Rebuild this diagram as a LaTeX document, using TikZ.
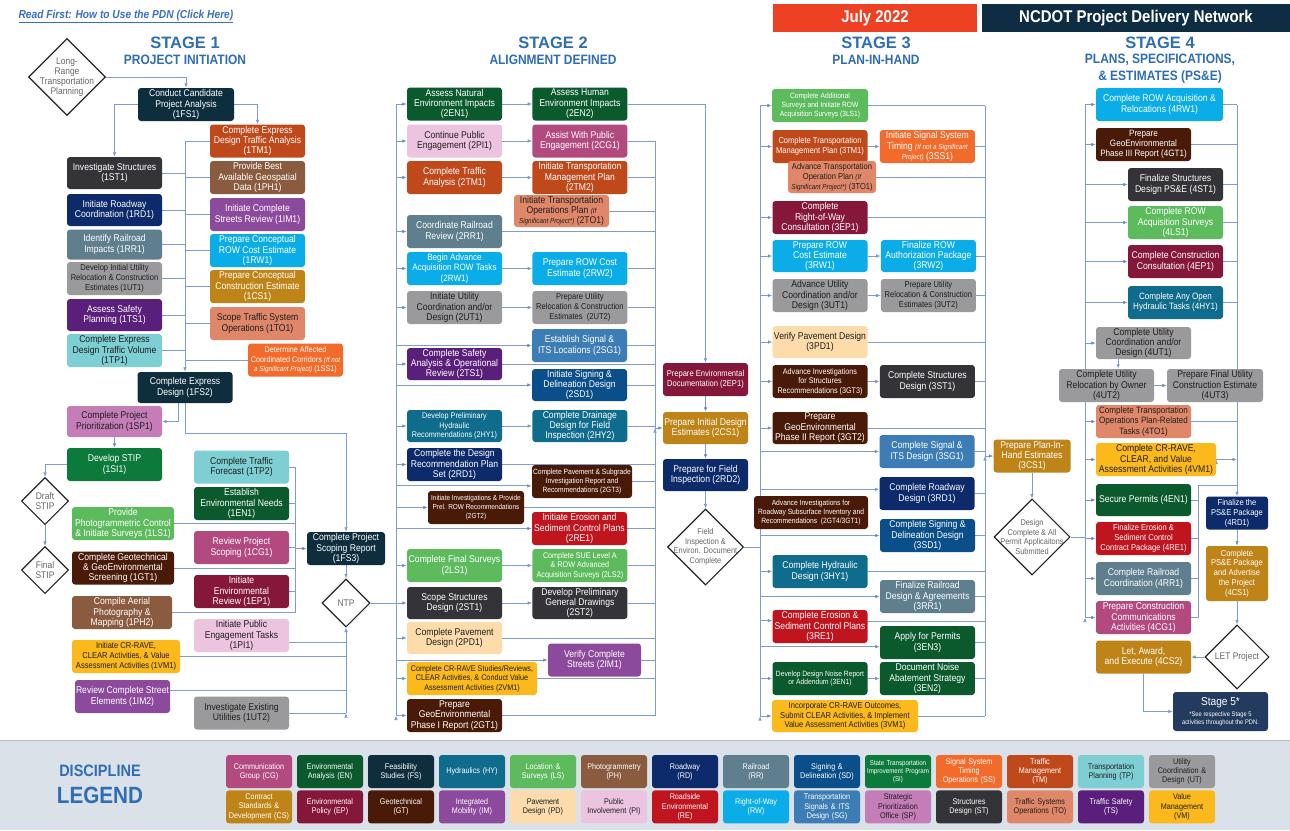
\documentclass[tikz,border=0pt]{standalone}
\usepackage{fontspec}
\setmainfont{Liberation Sans}[FakeStretch=0.88]
\newfontfamily\headfont{Liberation Sans}
\usetikzlibrary{arrows.meta, positioning, shapes.geometric}

% discipline colours
\definecolor{cCG}{HTML}{B24A80}
\definecolor{cEN}{HTML}{0B5A2E}
\definecolor{cFS}{HTML}{0E2E3E}
\definecolor{cHY}{HTML}{0F6C8D}
\definecolor{cLS}{HTML}{5DBB5E}
\definecolor{cPH}{HTML}{8B5B3F}
\definecolor{cRD}{HTML}{0D2A6B}
\definecolor{cRR}{HTML}{5F7F8F}
\definecolor{cSD}{HTML}{0A4F8A}
\definecolor{cSI}{HTML}{0B7A3B}
\definecolor{cSS}{HTML}{F26B2B}
\definecolor{cTM}{HTML}{C0491B}
\definecolor{cTP}{HTML}{7DCFD4}
\definecolor{cUT}{HTML}{9A9A9C}
\definecolor{cCS}{HTML}{BF8418}
\definecolor{cEP}{HTML}{85173B}
\definecolor{cGT}{HTML}{4A1A08}
\definecolor{cIM}{HTML}{8C4A9C}
\definecolor{cPD}{HTML}{FDDBAA}
\definecolor{cPI}{HTML}{EDC4DF}
\definecolor{cRE}{HTML}{C0141E}
\definecolor{cRW}{HTML}{0BADE8}
\definecolor{cSG}{HTML}{3D7DB5}
\definecolor{cSP}{HTML}{C57DB8}
\definecolor{cST}{HTML}{333338}
\definecolor{cTO}{HTML}{E0876A}
\definecolor{cTS}{HTML}{5A1F7A}
\definecolor{cVM}{HTML}{FBB91B}
\definecolor{cS5}{HTML}{233B5F}
% other colours
\definecolor{julyred}{HTML}{EE4123}
\definecolor{titlebg}{HTML}{0E2D42}
\definecolor{headblue}{HTML}{2F6DB5}
\definecolor{linkblue}{HTML}{3B6EC2}
\definecolor{lineblue}{HTML}{7E9CCE}
\definecolor{legendbg}{HTML}{DAE1E9}
\definecolor{darktext}{HTML}{1E1E1E}

\newcommand{\smallit}[1]{{\fontsize{7.2}{8}\selectfont\itshape #1}}

\pgfdeclarelayer{bg}
\pgfsetlayers{bg,main}

\begin{document}
\begin{tikzpicture}[x=1pt, y=-1pt, node distance=30pt, >={Latex[length=4.5pt,width=3.6pt]},
    task/.style={rounded corners=3pt, minimum width=95pt, minimum height=33pt, inner sep=1pt,
      align=center, text=white, font=\fontsize{9.8}{10.4}\selectfont},
    midtxt/.style={font=\fontsize{9.2}{10.2}\selectfont},
    smalltxt/.style={font=\fontsize{8.6}{9.8}\selectfont},
    fittxt/.style={font=\fontsize{8.2}{9.6}\selectfont},
    tinytxt/.style={font=\fontsize{7.6}{8.9}\selectfont},
    CG/.style={task, fill=cCG}, EN/.style={task, fill=cEN}, FS/.style={task, fill=cFS},
    HY/.style={task, fill=cHY}, LS/.style={task, fill=cLS}, PH/.style={task, fill=cPH},
    RD/.style={task, fill=cRD}, RR/.style={task, fill=cRR}, SD/.style={task, fill=cSD},
    SI/.style={task, fill=cSI}, SS/.style={task, fill=cSS}, TM/.style={task, fill=cTM},
    CS/.style={task, fill=cCS}, EP/.style={task, fill=cEP}, GT/.style={task, fill=cGT},
    IM/.style={task, fill=cIM}, RE/.style={task, fill=cRE}, RW/.style={task, fill=cRW},
    SG/.style={task, fill=cSG}, ST/.style={task, fill=cST}, TS/.style={task, fill=cTS},
    TP/.style={task, fill=cTP, text=darktext}, UT/.style={task, fill=cUT, text=darktext},
    PD/.style={task, fill=cPD, text=darktext}, PI/.style={task, fill=cPI, text=darktext},
    SP/.style={task, fill=cSP, text=darktext}, TO/.style={task, fill=cTO, text=darktext},
    VM/.style={task, fill=cVM, text=darktext},
    decision/.style={diamond, draw=black!85, line width=1.1pt, fill=white, inner sep=0pt},
    dtext/.style={align=center, text=black!60, font=\fontsize{9.6}{9.8}\selectfont},
    ln/.style={draw=lineblue, line width=0.8pt},
    stagehd/.style={text=headblue, font=\headfont\bfseries\fontsize{16.5}{18}\selectfont},
    stagesub/.style={text=headblue, align=center, font=\bfseries\fontsize{13.6}{17}\selectfont},
    lg/.style={minimum width=66pt, minimum height=33pt, text width=64pt, inner sep=1pt,
      font=\fontsize{8.2}{9.2}\selectfont}]
\useasboundingbox (0,0) rectangle (1290,830);

% header
\node[anchor=west, text=linkblue, font=\bfseries\itshape\fontsize{11.6}{13}\selectfont] (readfirst) at (15,16)
  {\underline{Read First: How to Use the PDN (Click Here)}};
\node[fill=julyred, text=white, minimum width=204pt, minimum height=28pt,
  font=\bfseries\fontsize{17}{20}\selectfont] (date) at (875,18) {July 2022};
\node[fill=titlebg, text=white, minimum width=308pt, minimum height=28pt,
  font=\bfseries\fontsize{17}{20}\selectfont] (title) at (1136,18) {NCDOT Project Delivery Network};
\node[stagehd] (h1) at (185,43) {STAGE 1};
\node[stagesub] (h1sub) at (185,60) {PROJECT INITIATION};
\node[stagehd] (h2) at (553,43) {STAGE 2};
\node[stagesub] (h2sub) at (553,60) {ALIGNMENT DEFINED};
\node[stagehd] (h3) at (876,43) {STAGE 3};
\node[stagesub] (h3sub) at (876,60) {PLAN-IN-HAND};
\node[stagehd] (h4) at (1160,43) {STAGE 4};
\node[stagesub] (h4sub) at (1160,69) {PLANS, SPECIFICATIONS,\\\& ESTIMATES (PS\&E)};

% bus lines
\coordinate (bus1) at (185,141);
\coordinate (knee1) at (346,433);
\coordinate (bus2) at (295,613);
\coordinate (bus3) at (346,713);
\coordinate (bus4t) at (396,104);   \coordinate (bus4b) at (396,715.5);
\coordinate (bus5t) at (655,141);   \coordinate (bus5b) at (655,715.5);
\coordinate (bus6t) at (760,105.5); \coordinate (bus6b) at (760,716);
\coordinate (bus7t) at (985,105.5); \coordinate (bus7b) at (985,716);
\coordinate (bus8t) at (1085,104.5); \coordinate (bus8b) at (1085,617.5);
\coordinate (bus9) at (1237,104.5);
\coordinate (bus10t) at (1198,485); \coordinate (bus10b) at (1198,617.5);

% stage 1
\node[decision, minimum size=77pt, label={[dtext]center:{Long-\\Range\\Transportation\\Planning}}] (lrtp) at (67,77) {};
\node[FS, minimum width=96pt] (s1FS1) at (186,104.5) {Conduct Candidate\\Project Analysis\\(1FS1)};
\node[TM] (s1TM1) at (257.5,141) {Complete Express\\Design Traffic Analysis\\(1TM1)};
\node[PH] (s1PH1) at (257.5,177.5) {Provide Best\\Available Geospatial\\Data (1PH1)};
\node[IM] (s1IM1) at (257.5,214.5) {Initiate Complete\\Streets Review (1IM1)};
\node[RW] (s1RW1) at (257.5,250.5) {Prepare Conceptual\\ROW Cost Estimate\\(1RW1)};
\node[CS] (s1CS1) at (257.5,286.5) {Prepare Conceptual\\Construction Estimate\\(1CS1)};
\node[TO] (s1TO1) at (257.5,323.5) {Scope Traffic System\\Operations (1TO1)};
\node[SS, fittxt] (s1SS1) at (295.5,360) {Determine Affected\\Coordinated Corridors \smallit{(If not}\\\smallit{a Significant Project)} (1SS1)};
\node[ST, minimum height=32pt] (s1ST1) at (114.5,173) {Investigate Structures\\(1ST1)};
\node[RD, minimum height=32pt] (s1RD1) at (114.5,210) {Initiate Roadway\\Coordination (1RD1)};
\node[RR, minimum height=30pt] (s1RR1) at (114.5,244.5) {Identify Railroad\\Impacts (1RR1)};
\node[UT, smalltxt] (s1UT1) at (114.5,278.5) {Develop Initial Utility\\Relocation \& Construction\\Estimates (1UT1)};
\node[TS, minimum height=32pt] (s1TS1) at (114.5,315) {Assess Safety\\Planning (1TS1)};
\node[TP] (s1TP1) at (114.5,350.5) {Complete Express\\Design Traffic Volume\\(1TP1)};
\node[FS, minimum height=31pt] (s1FS2) at (185,387.5) {Complete Express\\Design (1FS2)};
\node[SP, minimum height=31pt] (s1SP1) at (114.5,421.5) {Complete Project\\Prioritization (1SP1)};
\node[SI] (s1SI1) at (114.5,464.5) {Develop STIP\\(1SI1)};
\node[decision, minimum size=47pt, label={[dtext]center:{Draft\\STIP}}] (draft) at (45,501) {};
\node[decision, minimum size=47pt, label={[dtext]center:{Final\\STIP}}] (final) at (45,570) {};
\node[LS, minimum width=102pt] (s1LS1) at (123,523.5) {Provide\\Photogrammetric Control\\\& Initiate Surveys (1LS1)};
\node[GT, minimum width=102pt] (s1GT1) at (123,568) {Complete Geotechnical\\\& GeoEnvironmental\\Screening (1GT1)};
\node[PH, minimum width=100pt] (s1PH2) at (122,612.5) {Compile Aerial\\Photography \&\\Mapping (1PH2)};
\node[VM, smalltxt, minimum width=108pt] (s1VM1) at (126,656.5) {Initiate CR-RAVE,\\CLEAR Activities, \& Value\\Assessment Activities (1VM1)};
\node[IM] (s1IM2) at (122.5,696.5) {Review Complete Street\\Elements (1IM2)};
\node[TP] (s1TP2) at (241.5,467) {Complete Traffic\\Forecast (1TP2)};
\node[EN] (s1EN1) at (241.5,503.5) {Establish\\Environmental Needs\\(1EN1)};
\node[CG] (s1CG1) at (241.5,547.5) {Review Project\\Scoping (1CG1)};
\node[EP] (s1EP1) at (241.5,591.5) {Initiate\\Environmental\\Review (1EP1)};
\node[PI] (s1PI1) at (241.5,635.5) {Initiate Public\\Engagement Tasks\\(1PI1)};
\node[UT] (s1UT2) at (241.5,713) {Investigate Existing\\Utilities (1UT2)};
\node[FS, minimum width=78pt] (s1FS3) at (346,548.5) {Complete Project\\Scoping Report\\(1FS3)};
\node[decision, minimum size=48pt, label={[dtext]center:NTP}] (ntp) at (346,603) {};

% stage 2
\node[EN] (s2EN1) at (454.5,104) {Assess Natural\\Environment Impacts\\(2EN1)};
\node[EN] (s2EN2) [right=of s2EN1] {Assess Human\\Environment Impacts\\(2EN2)};
\node[PI] (s2PI1) at (454.5,141) {Continue Public\\Engagement (2PI1)};
\node[CG] (s2CG1) [right=of s2PI1] {Assist With Public\\Engagement (2CG1)};
\node[TM] (s2TM1) at (454.5,177.5) {Complete Traffic\\Analysis (2TM1)};
\node[TM] (s2TM2) [right=of s2TM1] {Initiate Transportation\\Management Plan\\(2TM2)};
\node[TO, minimum height=32pt] (s2TO1) at (561.5,211) {Initiate Transportation\\Operations Plan \smallit{(If}\\\smallit{Significant Project*)} (2TO1)};
\node[RR] (s2RR1) at (454.5,231.5) {Coordinate Railroad\\Review (2RR1)};
\node[RW, midtxt] (s2RW1) at (454.5,268.5) {Begin Advance\\Acquisition ROW Tasks\\(2RW1)};
\node[RW] (s2RW2) [right=of s2RW1] {Prepare ROW Cost\\Estimate (2RW2)};
\node[UT] (s2UT1) at (454.5,307.5) {Initiate Utility\\Coordination and/or\\Design (2UT1)};
\node[UT, smalltxt] (s2UT2) [right=of s2UT1] {Prepare Utility\\Relocation \& Construction\\Estimates~~(2UT2)};
\node[SG] (s2SG1) at (579.5,345.5) {Establish Signal \&\\ITS Locations (2SG1)};
\node[TS, minimum height=32pt] (s2TS1) at (454.5,364) {Complete Safety\\Analysis \& Operational\\Review (2TS1)};
\node[SD, minimum height=32pt] (s2SD1) at (579.5,385) {Initiate Signing \&\\Delineation Design\\(2SD1)};
\node[HY, fittxt, minimum height=32pt] (s2HY1) at (454.5,426) {Develop Preliminary\\Hydraulic\\Recommendations (2HY1)};
\node[HY, minimum height=32pt] (s2HY2) [right=of s2HY1] {Complete Drainage\\Design for Field\\Inspection (2HY2)};
\node[RD] (s2RD1) at (454.5,464.5) {Complete the Design\\Recommendation Plan\\Set (2RD1)};
\node[GT, tinytxt, minimum width=100pt] (s2GT3) at (582,481.5) {Complete Pavement \& Subgrade\\Investigation Report and\\Recommendations (2GT3)};
\node[GT, font=\fontsize{7.3}{8.7}\selectfont, minimum width=96pt] (s2GT2) at (476,507.5) {Initiate Investigations \& Provide\\Prel. ROW Recommendations\\(2GT2)};
\node[RE] (s2RE1) at (579.5,528.5) {Initiate Erosion and\\Sediment Control Plans\\(2RE1)};
\node[LS] (s2LS1) at (454.5,565.5) {Complete Final Surveys\\(2LS1)};
\node[LS, fittxt] (s2LS2) [right=of s2LS1] {Complete SUE Level A\\\& ROW Advanced\\Acquisition Surveys (2LS2)};
\node[ST, minimum height=32pt] (s2ST1) at (454.5,603) {Scope Structures\\Design (2ST1)};
\node[ST, minimum height=32pt] (s2ST2) [right=of s2ST1] {Develop Preliminary\\General Drawings\\(2ST2)};
\node[PD, minimum height=32pt] (s2PD1) at (454.5,638) {Complete Pavement\\Design (2PD1)};
\node[IM, minimum width=93pt] (s2IM1) at (594.5,660) {Verify Complete\\Streets (2IM1)};
\node[VM, fittxt, minimum width=130pt] (s2VM1) at (472,678.5) {Complete CR-RAVE Studies/Reviews,\\CLEAR Activities, \& Conduct Value\\Assessment Activities (2VM1)};
\node[GT] (s2GT1) at (454.5,715.5) {Prepare\\GeoEnvironmental\\Phase I Report (2GT1)};
\node[EP, smalltxt, minimum width=85pt] (s2EP1) at (705.5,379.5) {Prepare Environmental\\Documentation (2EP1)};
\node[CS, minimum width=85pt, minimum height=32pt] (s2CS1) at (705.5,428) {Prepare Initial Design\\Estimates (2CS1)};
\node[RD, minimum width=85pt, minimum height=32pt] (s2RD2) at (705.5,475) {Prepare for Field\\Inspection (2RD2)};
\node[decision, minimum size=76pt, label={[dtext, font=\fontsize{8.4}{9.6}\selectfont]center:{Field\\Inspection \&\\Environ. Document\\Complete}}] (field) at (705.5,547) {};

% stage 3
\node[LS, tinytxt, minimum width=96pt] (s3LS1) at (820,105.5) {Complete Additional\\Surveys and Initiate ROW\\Acquisition Surveys (3LS1)};
\node[TM, smalltxt] (s3TM1) at (820,146.5) {Complete Transportation\\Management Plan (3TM1)};
\node[SS] (s3SS1) [right=12pt of s3TM1] {Initiate Signal System\\Timing \smallit{(If not a Significant}\\\smallit{Project)} (3SS1)};
\node[TO, smalltxt, minimum width=88pt, minimum height=32pt] (s3TO1) at (832,177) {Advance Transportation\\Operation Plan \smallit{(If}\\\smallit{Significant Project*)} (3TO1)};
\node[EP] (s3EP1) at (820,217.5) {Complete\\Right-of-Way\\Consultation (3EP1)};
\node[RW, minimum height=32pt] (s3RW1) at (820,256) {Prepare ROW\\Cost Estimate\\(3RW1)};
\node[RW, minimum height=32pt] (s3RW2) [right=13pt of s3RW1] {Finalize ROW\\Authorization Package\\(3RW2)};
\node[UT] (s3UT1) at (820,295.5) {Advance Utility\\Coordination and/or\\Design (3UT1)};
\node[UT, smalltxt] (s3UT2) [right=13pt of s3UT1] {Prepare Utility\\Relocation \& Construction\\Estimates (3UT2)};
\node[PD, minimum height=32pt] (s3PD1) at (820,342) {Verify Pavement Design\\(3PD1)};
\node[GT, fittxt] (s3GT3) at (820,381.5) {Advance Investigations\\for Structures\\Recommendations (3GT3)};
\node[ST] (s3ST1) [right=12pt of s3GT3] {Complete Structures\\Design (3ST1)};
\node[GT, minimum height=32pt] (s3GT2) at (820,428) {Prepare\\GeoEnvironmental\\Phase II Report (3GT2)};
\node[SG] (s3SG1) at (927,451.5) {Complete Signal \&\\ITS Design (3SG1)};
\node[RD] (s3RD1) at (927,493.5) {Complete Roadway\\Design (3RD1)};
\node[GT, tinytxt, minimum width=114pt] (s3GT4) at (811,512.5) {Advance Investigations for\\Roadway Subsurface Inventory and\\Recommendations~~(2GT4/3GT1)};
\node[SD] (s3SD1) at (927.5,535.5) {Complete Signing \&\\Delineation Design\\(3SD1)};
\node[HY] (s3HY1) at (820,571.5) {Complete Hydraulic\\Design (3HY1)};
\node[RR] (s3RR1) at (927.5,596.5) {Finalize Railroad\\Design \& Agreements\\(3RR1)};
\node[RE] (s3RE1) at (820,626.5) {Complete Erosion \&\\Sediment Control Plans\\(3RE1)};
\node[EN] (s3EN3) at (927.5,642.5) {Apply for Permits\\(3EN3)};
\node[EN, tinytxt] (s3EN1) at (820,678.5) {Develop Design Noise Report\\or Addendum (3EN1)};
\node[EN] (s3EN2) [right=12pt of s3EN1] {Document Noise\\Abatement Strategy\\(3EN2)};
\node[VM, smalltxt, minimum width=146pt, minimum height=32pt] (s3VM1) at (845,716) {Incorporate CR-RAVE Outcomes,\\Submit CLEAR Activities, \& Implement\\Value Assessment Activities (3VM1)};
\node[CS, minimum width=77pt] (s3CS1) at (1032,456) {Prepare Plan-In-\\Hand Estimates\\(3CS1)};
\node[decision, minimum size=76pt, label={[dtext, font=\fontsize{8.4}{9.6}\selectfont]center:{Design\\Complete \& All\\Permit Applicaitons\\Submitted}}] (design) at (1032,537) {};

% stage 4
\node[RW, minimum width=127pt] (s4RW1) at (1159.5,104.5) {Complete ROW Acquisition \&\\Relocations (4RW1)};
\node[GT, midtxt] (s4GT1) at (1143.5,144.5) {Prepare\\GeoEnvironmental\\Phase III Report (4GT1)};
\node[ST] (s4ST1) at (1175.5,184.5) {Finalize Structures\\Design PS\&E (4ST1)};
\node[LS] (s4LS1) at (1175.5,222.5) {Complete ROW\\Acquisition Surveys\\(4LS1)};
\node[EP] (s4EP1) at (1175.5,261.5) {Complete Construction\\Consultation (4EP1)};
\node[HY, midtxt] (s4HY1) at (1175.5,302.5) {Complete Any Open\\Hydraulic Tasks (4HY1)};
\node[UT, minimum height=32pt] (s4UT1) at (1143.5,343) {Complete Utility\\Coordination and/or\\Design (4UT1)};
\node[UT] (s4UT2) at (1106.5,385.5) {Complete Utility\\Relocation by Owner\\(4UT2)};
\node[UT, minimum width=96pt] (s4UT3) at (1215,385.5) {Prepare Final Utility\\Construction Estimate\\(4UT3)};
\node[TO, midtxt] (s4TO1) at (1143.5,421.5) {Complete Transportation\\Operations Plan-Related\\Tasks (4TO1)};
\node[VM, minimum width=120pt] (s4VM1) at (1156,459.5) {Complete CR-RAVE,\\CLEAR, and Value\\Assessment Activities (4VM1)};
\node[EN, minimum height=32pt] (s4EN1) at (1143.5,500) {Secure Permits (4EN1)};
\node[RE, smalltxt] (s4RE1) at (1143.5,538.5) {Finalize Erosion \&\\Sediment Control\\Contract Package (4RE1)};
\node[RR] (s4RR1) at (1143.5,578.5) {Complete Railroad\\Coordination (4RR1)};
\node[CG] (s4CG1) at (1143.5,617.5) {Prepare Construction\\Communications\\Activities (4CG1)};
\node[RD, smalltxt, minimum width=62pt] (s4RD1) at (1237,513) {Finalize the\\PS\&E Package\\(4RD1)};
\node[CS, smalltxt, minimum width=62pt, minimum height=55pt] (s4CS1) at (1237,573.5) {Complete\\PS\&E Package\\and Advertise\\the Project\\(4CS1)};
\node[decision, minimum size=64pt, label={[dtext]center:LET Project}] (let) at (1237,657) {};
\node[CS] (s4CS2) at (1143.5,657) {Let, Award,\\and Execute (4CS2)};
\node[task, fill=cS5, minimum height=39pt, font=\fontsize{6.6}{7.8}\selectfont] (s5) at (1220.5,711.5)
  {{\fontsize{11.5}{12}\selectfont Stage 5*}\\[4pt]*See respective Stage 5\\activities throughout the PDN.};

% legend
\node[text=headblue, font=\bfseries\fontsize{16.5}{18}\selectfont] (lgtop) at (100,771) {DISCIPLINE};
\node[text=headblue, font=\bfseries\fontsize{23.5}{25}\selectfont] (lgbot) at (100,795) {LEGEND};
\node[CG, lg] (lgCG) at (259,771.5) {Communication\\Group (CG)};
\node[EN, lg] (lgEN) [right=4.6pt of lgCG] {Environmental\\Analysis (EN)};
\node[FS, lg] (lgFS) [right=4.6pt of lgEN] {Feasibility\\Studies (FS)};
\node[HY, lg] (lgHY) [right=4.6pt of lgFS] {Hydraulics (HY)};
\node[LS, lg] (lgLS) [right=4.6pt of lgHY] {Location \&\\Surveys (LS)};
\node[PH, lg] (lgPH) [right=4.6pt of lgLS] {Photogrammetry\\(PH)};
\node[RD, lg] (lgRD) [right=4.6pt of lgPH] {Roadway\\(RD)};
\node[RR, lg] (lgRR) [right=4.6pt of lgRD] {Railroad\\(RR)};
\node[SD, lg] (lgSD) [right=4.6pt of lgRR] {Signing \&\\Delineation (SD)};
\node[SI, lg, font=\fontsize{7}{8}\selectfont] (lgSI) [right=4.6pt of lgSD] {State Transportation\\Improvement Program\\(SI)};
\node[SS, lg] (lgSS) [right=4.6pt of lgSI] {Signal System\\Timing\\Operations (SS)};
\node[TM, lg] (lgTM) [right=4.6pt of lgSS] {Traffic\\Management\\(TM)};
\node[TP, lg] (lgTP) [right=4.6pt of lgTM] {Transportation\\Planning (TP)};
\node[UT, lg] (lgUT) [right=4.6pt of lgTP] {Utility\\Coordination \&\\Design (UT)};
\node[CS, lg] (lgCS) [below=2pt of lgCG] {Contract\\Standards \&\\Development (CS)};
\node[EP, lg] (lgEP) [below=2pt of lgEN] {Environmental\\Policy (EP)};
\node[GT, lg] (lgGT) [below=2pt of lgFS] {Geotechnical\\(GT)};
\node[IM, lg] (lgIM) [below=2pt of lgHY] {Integrated\\Mobility (IM)};
\node[PD, lg] (lgPD) [below=2pt of lgLS] {Pavement\\Design (PD)};
\node[PI, lg] (lgPI) [below=2pt of lgPH] {Public\\Involvement (PI)};
\node[RE, lg] (lgRE) [below=2pt of lgRD] {Roadside\\Environmental\\(RE)};
\node[RW, lg] (lgRW) [below=2pt of lgRR] {Right-of-Way\\(RW)};
\node[SG, lg] (lgSG) [below=2pt of lgSD] {Transportation\\Signals \& ITS\\Design (SG)};
\node[SP, lg] (lgSP) [below=2pt of lgSI] {Strategic\\Prioritization\\Office (SP)};
\node[ST, lg] (lgST) [below=2pt of lgSS] {Structures\\Design (ST)};
\node[TO, lg] (lgTO) [below=2pt of lgTM] {Traffic Systems\\Operations (TO)};
\node[TS, lg] (lgTS) [below=2pt of lgTP] {Traffic Safety\\(TS)};
\node[VM, lg] (lgVM) [below=2pt of lgUT] {Value\\Management\\(VM)};

\begin{pgfonlayer}{bg}
\fill[white] (0,0) rectangle (1290,830);
\fill[legendbg] (0,740) rectangle (1290,830);
\draw[gray!55, line width=1pt] (0,740) -- (1290,740);

% stage 1 connectors
\draw[ln,->] (lrtp.east) -| (s1FS1.north);
\draw[ln,->] (s1FS1.west) -| (s1ST1.north);
\draw[ln,->] (s1FS1.east) -| (s1TM1.north);
\draw[ln,->] (bus1) -- (s1FS2.north);
\path[ln]
  (s1TM1.west) edge (s1TM1.west -| bus1)
  (s1PH1.west) edge (s1PH1.west -| bus1)
  (s1IM1.west) edge (s1IM1.west -| bus1)
  (s1RW1.west) edge (s1RW1.west -| bus1)
  (s1CS1.west) edge (s1CS1.west -| bus1)
  (s1TO1.west) edge (s1TO1.west -| bus1)
  (s1SS1.west) edge (s1SS1.west -| bus1)
  (s1ST1.east) edge (s1ST1.east -| bus1)
  (s1RD1.east) edge (s1RD1.east -| bus1)
  (s1RR1.east) edge (s1RR1.east -| bus1)
  (s1UT1.east) edge (s1UT1.east -| bus1)
  (s1TS1.east) edge (s1TS1.east -| bus1)
  (s1TP1.east) edge (s1TP1.east -| bus1);
\draw[ln,->] ([xshift=-7pt]s1FS2.south) |- (s1SP1.east);
\draw[ln,->] (s1FS2.south) |- (knee1) -- (s1FS3.north);
\draw[ln,->] (s1SI1.west) -| (draft.north);
\draw[ln] (s1TP2.east) -| (bus2);
\path[ln]
  (s1EN1.east) edge (s1EN1.east -| bus2)
  (s1LS1.east) edge (s1LS1.east -| bus2)
  (s1CG1.east) edge (s1CG1.east -| bus2)
  (s1GT1.east) edge (s1GT1.east -| bus2)
  (s1EP1.east) edge (s1EP1.east -| bus2)
  (s1PH2.east) edge (s1PH2.east -| bus2)
  (s1PI1.352.8) edge (s1PI1.352.8 -| bus3)
  (s1VM1.east) edge (s1VM1.east -| bus3)
  (s1IM2.7.8) edge (s1IM2.7.8 -| bus3)
  (s1UT2.east) edge (s1UT2.east -| bus3);
\path[ln,->]
  (s1SP1) edge (s1SI1)
  (draft) edge (final)
  (s1FS3.west -| bus2) edge (s1FS3.west)
  (s1FS3) edge (ntp)
  (bus3) edge (ntp.south);
\draw[ln] (ntp.east) -- (ntp.east -| bus4t);

% stage 2 connectors
\draw[ln] (bus4t) -- (bus4b);
\path[ln,->]
  (s2EN1.west -| bus4t) edge (s2EN1.west)
  (s2PI1.west -| bus4t) edge (s2PI1.west)
  (s2TM1.west -| bus4t) edge (s2TM1.west)
  (s2RR1.west -| bus4t) edge (s2RR1.west)
  (s2RW1.west -| bus4t) edge (s2RW1.west)
  (s2UT1.west -| bus4t) edge (s2UT1.west)
  (s2SG1.west -| bus4t) edge (s2SG1.west)
  (s2TS1.west -| bus4t) edge (s2TS1.west)
  (s2SD1.west -| bus4t) edge (s2SD1.west)
  (s2HY1.west -| bus4t) edge (s2HY1.west)
  (s2RD1.west -| bus4t) edge (s2RD1.west)
  (s2GT3.185.1 -| bus4t) edge (s2GT3.185.1)
  (s2GT2.west -| bus4t) edge (s2GT2.west)
  (s2RE1.west -| bus4t) edge (s2RE1.west)
  (s2LS1.west -| bus4t) edge (s2LS1.west)
  (s2ST1.west -| bus4t) edge (s2ST1.west)
  (s2PD1.west -| bus4t) edge (s2PD1.west)
  (s2IM1.west -| bus4t) edge (s2IM1.west)
  (s2VM1.west -| bus4t) edge (s2VM1.west)
  (s2GT1.west -| bus4t) edge (s2GT1.west);
\path[ln,->]
  (s2EN1) edge (s2EN2)
  (s2PI1) edge (s2CG1)
  (s2TM1) edge (s2TM2)
  (s2RW1) edge (s2RW2)
  (s2UT1) edge (s2UT2)
  (s2HY1) edge (s2HY2)
  (s2LS1) edge (s2LS2)
  (s2ST1) edge (s2ST2);
\draw[ln] (bus5t) -- (bus5b);
\path[ln]
  (s2CG1.east) edge (s2CG1.east -| bus5t)
  (s2TM2.east) edge (s2TM2.east -| bus5t)
  (s2TO1.east) edge (s2TO1.east -| bus5t)
  (s2RR1.east) edge (s2RR1.east -| bus5t)
  (s2RW2.east) edge (s2RW2.east -| bus5t)
  (s2UT2.east) edge (s2UT2.east -| bus5t)
  (s2SG1.east) edge (s2SG1.east -| bus5t)
  (s2TS1.east) edge (s2TS1.east -| bus5t)
  (s2SD1.east) edge (s2SD1.east -| bus5t)
  (s2HY2.east) edge (s2HY2.east -| bus5t)
  (s2RD1.east) edge (s2RD1.east -| bus5t)
  (s2GT3.east) edge (s2GT3.east -| bus5t)
  (s2GT2.east) edge (s2GT2.east -| bus5t)
  (s2RE1.east) edge (s2RE1.east -| bus5t)
  (s2LS2.east) edge (s2LS2.east -| bus5t)
  (s2ST2.east) edge (s2ST2.east -| bus5t)
  (s2PD1.east) edge (s2PD1.east -| bus5t)
  (s2IM1.east) edge (s2IM1.east -| bus5t)
  (s2VM1.east) edge (s2VM1.east -| bus5t)
  (s2GT1.east) edge (s2GT1.east -| bus5t);
\draw[ln,->] (s2EN2.east) -| (s2EP1.north);
\path[ln,->]
  (s2CS1.west -| bus5t) edge (s2CS1.west)
  (s2EP1) edge (s2CS1)
  (s2CS1) edge (s2RD2)
  (s2RD2) edge (field);
\draw[ln] (field.east) -- (field.east -| bus6t);

% stage 3 connectors
\draw[ln] (bus6t) -- (bus6b);
\path[ln,->]
  (s3LS1.west -| bus6t) edge (s3LS1.west)
  (s3TM1.west -| bus6t) edge (s3TM1.west)
  (s3EP1.west -| bus6t) edge (s3EP1.west)
  (s3RW1.west -| bus6t) edge (s3RW1.west)
  (s3UT1.west -| bus6t) edge (s3UT1.west)
  (s3PD1.west -| bus6t) edge (s3PD1.west)
  (s3GT3.west -| bus6t) edge (s3GT3.west)
  (s3GT2.west -| bus6t) edge (s3GT2.west)
  (s3SG1.west -| bus6t) edge (s3SG1.west)
  (s3RD1.175.8 -| bus6t) edge (s3RD1.175.8)
  (s3SD1.west -| bus6t) edge (s3SD1.west)
  (s3HY1.west -| bus6t) edge (s3HY1.west)
  (s3RR1.west -| bus6t) edge (s3RR1.west)
  (s3RE1.173.4 -| bus6t) edge (s3RE1.173.4)
  (s3EN3.185.4 -| bus6t) edge (s3EN3.185.4)
  (s3EN1.west -| bus6t) edge (s3EN1.west)
  (s3VM1.west -| bus6t) edge (s3VM1.west);
\path[ln,->]
  (s3TM1) edge (s3SS1)
  (s3RW1) edge (s3RW2)
  (s3UT1) edge (s3UT2)
  (s3GT3) edge (s3ST1)
  (s3EN1) edge (s3EN2);
\draw[ln] (bus7t) -- (bus7b);
\path[ln]
  (s3LS1.east) edge (s3LS1.east -| bus7t)
  (s3SS1.east) edge (s3SS1.east -| bus7t)
  (s3TO1.east) edge (s3TO1.east -| bus7t)
  (s3EP1.east) edge (s3EP1.east -| bus7t)
  (s3RW2.east) edge (s3RW2.east -| bus7t)
  (s3UT2.east) edge (s3UT2.east -| bus7t)
  (s3PD1.east) edge (s3PD1.east -| bus7t)
  (s3ST1.east) edge (s3ST1.east -| bus7t)
  (s3GT2.east) edge (s3GT2.east -| bus7t)
  (s3SG1.east) edge (s3SG1.east -| bus7t)
  (s3RD1.east) edge (s3RD1.east -| bus7t)
  (s3SD1.east) edge (s3SD1.east -| bus7t)
  (s3HY1.east) edge (s3HY1.east -| bus7t)
  (s3RR1.east) edge (s3RR1.east -| bus7t)
  (s3RE1.6.6) edge (s3RE1.6.6 -| bus7t)
  (s3EN3.east) edge (s3EN3.east -| bus7t)
  (s3EN2.east) edge (s3EN2.east -| bus7t)
  (s3VM1.east) edge (s3VM1.east -| bus7t);
\path[ln,->]
  (s3CS1.west -| bus7t) edge (s3CS1.west)
  (s3CS1) edge (design);
\draw[ln] (design.east) -- (design.east -| bus8t);

% stage 4 connectors
\draw[ln] (bus8t) -- (bus8b);
\path[ln,->]
  (s4RW1.west -| bus8t) edge (s4RW1.west)
  (s4GT1.west -| bus8t) edge (s4GT1.west)
  (s4ST1.west -| bus8t) edge (s4ST1.west)
  (s4LS1.west -| bus8t) edge (s4LS1.west)
  (s4EP1.west -| bus8t) edge (s4EP1.west)
  (s4HY1.west -| bus8t) edge (s4HY1.west)
  (s4UT1.west -| bus8t) edge (s4UT1.west)
  (s4TO1.west -| bus8t) edge (s4TO1.west)
  (s4VM1.west -| bus8t) edge (s4VM1.west)
  (s4EN1.west -| bus8t) edge (s4EN1.west)
  (s4RE1.west -| bus8t) edge (s4RE1.west)
  (s4RR1.west -| bus8t) edge (s4RR1.west)
  (s4CG1.west -| bus8t) edge (s4CG1.west);
\draw[ln,->] (s4UT2.55.1 |- s4UT1.south) -- (s4UT2.55.1);
\draw[ln,->] (bus9) -- (s4RD1.north);
\path[ln]
  (s4RW1.east) edge (s4RW1.east -| bus9)
  (s4GT1.east) edge (s4GT1.east -| bus9)
  (s4ST1.east) edge (s4ST1.east -| bus9)
  (s4LS1.east) edge (s4LS1.east -| bus9)
  (s4EP1.east) edge (s4EP1.east -| bus9)
  (s4HY1.east) edge (s4HY1.east -| bus9)
  (s4TO1.east) edge (s4TO1.east -| bus9);
\draw[ln] (bus10t -| bus9) -- (bus10t) -- (bus10b);
\path[ln]
  (s4EN1.east) edge (s4EN1.east -| bus10t)
  (s4RE1.east) edge (s4RE1.east -| bus10t)
  (s4RR1.east) edge (s4RR1.east -| bus10t)
  (s4CG1.east) edge (s4CG1.east -| bus10t);
\path[ln,->]
  (s4UT2) edge (s4UT3)
  (s4VM1.east) edge (s4VM1.east -| bus9)
  (s4RD1) edge (s4CS1)
  (s4CS1) edge (let)
  (let) edge (s4CS2);
\draw[ln,->] (s4CS2.south) |- (s5.west);
\end{pgfonlayer}
\end{tikzpicture}
\end{document}
